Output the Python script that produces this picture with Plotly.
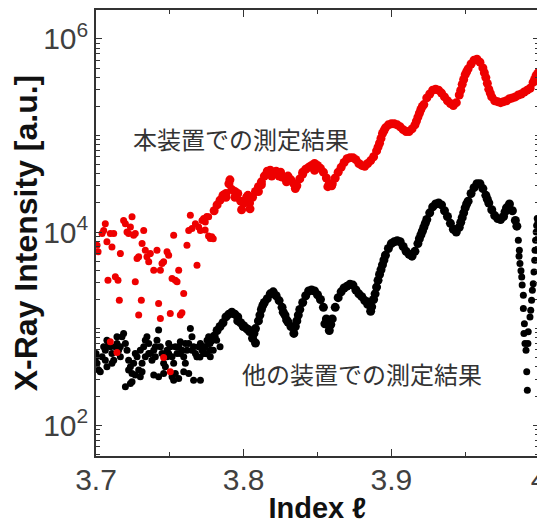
import plotly.graph_objects as go

# ---------------- data ----------------
# Red: this instrument ("本装置での測定結果")
red_noise_x = [3.7007,3.7014,3.7041,3.7063,3.7052,3.7074,3.7097,3.7120,3.7108,3.7165,
               3.7081,3.7131,3.7149,3.7158,3.7187,3.7199,3.7210,3.7221,3.7244,3.7233,
               3.7255,3.7266,3.7323,3.7312,3.7334,3.7345,3.7289,3.7278,3.7357,3.7368,
               3.7413,3.7391,3.7436,3.7447,3.7458,3.7481,3.7492,3.7526,3.7515,3.7537,
               3.7549,3.7560,3.7594,3.7307,3.7266,3.7289,3.7424,3.7436,3.7503,3.7571,
               3.7582,3.7616,3.7639,3.7673,3.7684,3.7628,3.7650,3.7695,3.7718,3.7740,
               3.7763,3.7774,3.7707,3.7729,3.7097,3.7142,3.7458,3.7503,3.7739,3.7784,
               3.7794,3.7750,3.7762]
red_noise_y = [7310,6240,9640,12200,10400,7910,9640,9640,7010,5980,
               3170,3440,3170,1970,13200,12200,10000,9640,14400,11300,
               9270,9640,10400,7600,6490,5530,5530,5320,4910,5980,
               6490,4030,4030,4720,4910,6240,5750,9270,3300,3170,
               3050,4030,2310,1970,3050,1380,1820,1270,1430,1380,
               1460,7310,14900,12200,4540,10400,10900,11300,13200,12700,
               14400,8570,10400,13800,730,565,502,356,10500,8910,
               8510,14500,9120]

red_curve_x = [3.780,3.782,3.784,3.786,3.788,3.790,3.792,3.794,3.796,3.798,
               3.800,3.802,3.804,3.806,3.808,3.810,3.812,3.814,3.816,3.818,
               3.820,3.822,3.824,3.826,3.828,3.830,3.832,3.834,3.836,3.838,
               3.840,3.842,3.844,3.846,3.848,3.850,3.852,3.854,3.856,3.858,
               3.860,3.862,3.864,3.866,3.868,3.870,3.872,3.874,3.876,3.878,
               3.880,3.882,3.884,3.886,3.888,3.890,3.892,3.894,3.896,3.898,
               3.900,3.902,3.904,3.906,3.908,3.910,3.912,3.914,3.916,3.918,
               3.920,3.922,3.924,3.926,3.928,3.930,3.932,3.934,3.936,3.938,
               3.940,3.942,3.944,3.946,3.948,3.950,3.952,3.954,3.956,3.958,
               3.960,3.962,3.964,3.966,3.968,3.970,3.972,3.974,3.976,3.978,
               3.980,3.982,3.984,3.986,3.988,3.990,3.992,3.994,3.996,3.998,4.000]
red_curve_y = [16600,19100,21400,24000,25100,31600,27500,26300,25100,20900,
               20000,22900,20000,22900,26300,29500,33100,38000,42700,43700,
               40700,42700,38000,37200,36300,38000,34700,31600,30200,35500,
               41700,44700,46800,49000,51300,49000,45700,41700,36300,31600,
               31600,36300,41700,46800,52500,57500,58900,58900,56200,51300,
               49000,47900,51300,55000,60300,69200,83200,105000,120000,129000,
               132000,132000,129000,123000,115000,110000,110000,117000,129000,155000,
               186000,209000,245000,269000,295000,302000,295000,275000,251000,229000,
               214000,204000,219000,263000,339000,427000,490000,550000,603000,617000,
               575000,501000,398000,302000,251000,229000,224000,219000,224000,229000,
               240000,245000,251000,263000,269000,282000,295000,309000,355000,417000,457000]

red_extra_x = [3.891,3.893,3.895,3.917,3.919,3.921,3.947,3.949,3.951,3.963,3.965,3.967,3.997,3.999,
               3.7907,3.7941,3.7986,3.8043,3.8029,3.8120,3.8190,3.8290,3.8350,3.8570,3.8596,
               3.8480,3.8400,3.8250,3.8100,3.7880]
red_extra_y = [75900,93300,112000,141000,170000,200000,295000,380000,457000,447000,347000,275000,380000,437000,
               34700,22900,17000,17400,24000,30900,38000,33100,28200,29500,30200,
               43700,39800,41700,26300,22900]

# Black: other instrument ("他の装置での測定結果")
black_noise_x = [3.7000,3.7007,3.7018,3.7029,3.7041,3.7052,3.7063,3.7074,3.7086,3.7097,
                 3.7108,3.7120,3.7131,3.7142,3.7153,3.7165,3.7176,3.7187,3.7199,3.7210,
                 3.7221,3.7233,3.7244,3.7255,3.7266,3.7199,3.7244,3.7278,3.7289,3.7300,
                 3.7312,3.7323,3.7334,3.7345,3.7357,3.7368,3.7379,3.7391,3.7402,3.7413,
                 3.7424,3.7436,3.7447,3.7458,3.7470,3.7481,3.7492,3.7503,3.7515,3.7526,
                 3.7537,3.7549,3.7560,3.7571,3.7582,3.7594,3.7605,3.7616,3.7628,3.7639,
                 3.7650,3.7661,3.7673,3.7684,3.7695,3.7707,3.7718,3.7729,3.7740,3.7752,
                 3.7763,3.7774,3.7458,3.7515,3.7560,3.7594,3.7628,3.7661,3.7707,3.7233,
                 3.7108,3.7312,3.7424,3.7526,3.7391,3.7266,3.7002,3.7063,3.7165,3.7357,
                 3.7481,3.7571,3.7650,3.7740,3.7763,3.7774,3.7334,3.7402,3.7492,3.7142,
                 3.7074,3.7221,3.7300,3.7537,3.7605,3.7684,3.7704,3.7727,3.7750,3.7772,
                 3.7794,3.7817,3.7840]
black_noise_y = [552,436,372,356,511,647,598,759,701,647,
                 552,471,647,701,598,511,822,889,701,598,
                 471,402,343,436,552,249,281,511,372,317,
                 436,647,759,822,701,552,471,598,647,759,
                 964,647,552,436,402,598,701,647,511,436,
                 343,552,647,729,598,511,436,598,701,1000,
                 822,647,552,511,647,701,598,552,647,759,
                 701,598,343,317,304,356,343,292,292,270,
                 436,356,317,292,330,330,511,471,647,552,
                 511,552,598,552,822,511,511,511,552,822,
                 402,372,598,647,701,511,509,647,550,701,
                 598,759,647]

black_curve_x = [3.778,3.780,3.782,3.784,3.786,3.788,3.790,3.792,3.794,3.796,
                 3.798,3.800,3.802,3.804,3.806,3.808,3.810,3.812,3.814,3.816,
                 3.818,3.820,3.822,3.824,3.826,3.828,3.830,3.832,3.834,3.836,
                 3.838,3.840,3.842,3.844,3.846,3.848,3.850,3.852,3.854,3.856,
                 3.858,3.860,3.862,3.864,3.866,3.868,3.870,3.872,3.874,3.876,
                 3.878,3.880,3.882,3.884,3.886,3.888,3.890,3.892,3.894,3.896,
                 3.898,3.900,3.902,3.904,3.906,3.908,3.910,3.912,3.914,3.916,
                 3.918,3.920,3.922,3.924,3.926,3.928,3.930,3.932,3.934,3.936,
                 3.938,3.940,3.942,3.944,3.946,3.948,3.950,3.952,3.954,3.956,
                 3.958,3.960,3.962,3.964,3.966,3.968,3.970,3.972,3.974,3.976,
                 3.978,3.980,3.982,3.984,3.985]
black_curve_y = [759,832,955,1050,1150,1320,1410,1480,1410,1320,
                 1150,1070,1000,933,794,1000,1200,1580,1860,2040,
                 2290,2400,2190,1950,1660,1380,1170,1050,891,1200,
                 1580,1860,2190,2450,2510,2450,2240,2000,1660,1260,
                 955,1260,1660,2090,2400,2630,2750,2880,2820,2510,
                 2290,2140,1950,1780,1510,2000,2690,3630,4570,5750,
                 6760,7590,7940,8130,7940,7080,6310,5890,5620,6310,
                 7590,9330,11200,13500,15800,18200,19500,20000,19100,16600,
                 14500,12300,10700,10000,11200,14100,17800,20900,25100,28800,
                 31600,31600,28200,24000,20000,17000,14800,13800,13500,14500,
                 17800,19500,16600,13200,11500]

black_extra_x = [3.889,3.891,3.893,3.895,3.919,3.921,3.923,3.947,3.949,3.951,
                 3.977,3.965,3.837,3.835,3.857,3.859,3.807,3.813,3.811,3.808,
                 3.803,3.7997,3.796,3.8268,3.8291,3.855,3.8844,3.8867]
black_extra_y = [2290,3160,4070,5130,8510,10200,12300,12600,15800,19500,
                 16200,21900,1380,1050,1100,1100,891,1740,1380,708,
                 977,1050,1200,1480,1230,1120,1890,1680]

black_tail_x = [3.9860,3.9865,3.9867,3.9871,3.9878,3.9883,3.9886,3.9894,3.9894,3.9898,
                3.9901,3.9905,3.9912,3.9917,3.9921,3.9925,3.9927,3.9939,3.9944,3.9950,
                3.9955,3.9961,3.9966,3.9971,3.9973,3.9977,3.9981,3.9984,3.9988,3.9993]
black_tail_y = [8220,5620,6470,4710,3980,3430,2820,2220,1610,889,
                1120,700,597,356,230,700,925,1320,1550,1970,
                2490,2920,3860,5100,6470,8220,10000,11700,13800,12600]

x_ticks = [3.7, 3.8, 3.9, 4.0]
x_tick_labels = ["3.7", "3.8", "3.9", "4"]
y_ticks = [1e2, 1e4, 1e6]
y_tick_labels = ["10<sup>2</sup>", "10<sup>4</sup>", "10<sup>6</sup>"]

label_red = "本装置での測定結果"
label_black = "他の装置での測定結果"

# minor tick positions on the log axis (every 1..9 x 10^n except the labelled decades)
y_minor_ticks = [m * 10 ** d for d in range(1, 7) for m in range(1, 10)
                 if not (m == 1 and 10 ** d in y_ticks)]

# ---------------- figure ----------------
fig = go.Figure()
# black: noisy/sparse part (small dots) and dense part (thicker dots)
fig.add_trace(go.Scatter(
    x=black_noise_x + black_tail_x, y=black_noise_y + black_tail_y,
    mode="markers", name=label_black,
    marker=dict(color="#000000", size=7, line=dict(width=0)),
))
fig.add_trace(go.Scatter(
    x=black_curve_x + black_extra_x, y=black_curve_y + black_extra_y,
    mode="markers", name=label_black,
    marker=dict(color="#000000", size=9, line=dict(width=0)),
))
fig.add_trace(go.Scatter(
    x=red_noise_x, y=red_noise_y,
    mode="markers", name=label_red,
    marker=dict(color="#ee0000", size=7, line=dict(width=0)),
))
fig.add_trace(go.Scatter(
    x=red_curve_x + red_extra_x, y=red_curve_y + red_extra_y,
    mode="markers", name=label_red,
    marker=dict(color="#ee0000", size=9, line=dict(width=0)),
))

axis_common = dict(
    showline=True, linecolor="#333333", linewidth=1.5, mirror="ticks",
    ticks="inside", tickcolor="#333333", tickwidth=1.2,
    showgrid=False, zeroline=False, automargin=False,
    tickfont=dict(family="Liberation Sans, Arial", size=30, color="#404040"),
)

fig.update_xaxes(
    **axis_common,
    range=[3.7, 4.0],
    tickmode="array", tickvals=x_ticks, ticktext=x_tick_labels, ticklen=7,
    ticklabeloverflow="allow", ticklabelstandoff=-4,
    minor=dict(dtick=0.05, tick0=3.7, ticks="inside", ticklen=4, tickcolor="#333333"),
    title=dict(text="<b>Index ℓ</b>", font=dict(family="Liberation Sans, Arial", size=29, color="#111111"), standoff=8),
)
fig.update_yaxes(
    **axis_common,
    type="log", range=[1.68, 6.30],
    tickmode="array", tickvals=y_ticks, ticktext=y_tick_labels, ticklen=6,
    minor=dict(tickmode="array", tickvals=y_minor_ticks, ticks="inside", ticklen=4, tickcolor="#333333"),
    title=dict(text="<b>X-Ray Intensity [a.u.]</b>", font=dict(family="Liberation Sans, Arial", size=32, color="#111111"), standoff=4),
)

fig.add_annotation(text=label_red, xref="paper", yref="paper", x=0.078, y=0.713,
                   xanchor="left", yanchor="middle", showarrow=False,
                   font=dict(family="Noto Sans CJK JP", size=24, color="#333333"))
fig.add_annotation(text=label_black, xref="paper", yref="paper", x=0.325, y=0.186,
                   xanchor="left", yanchor="middle", showarrow=False,
                   font=dict(family="Noto Sans CJK JP", size=24, color="#333333"))

# the page body adds an 8px offset, so the figure is sized to fill the window exactly
fig.update_layout(
    width=537, height=516,
    margin=dict(l=88, r=6, t=2, b=68),
    plot_bgcolor="white", paper_bgcolor="white",
    showlegend=False,
)

fig.write_html("out.html")
